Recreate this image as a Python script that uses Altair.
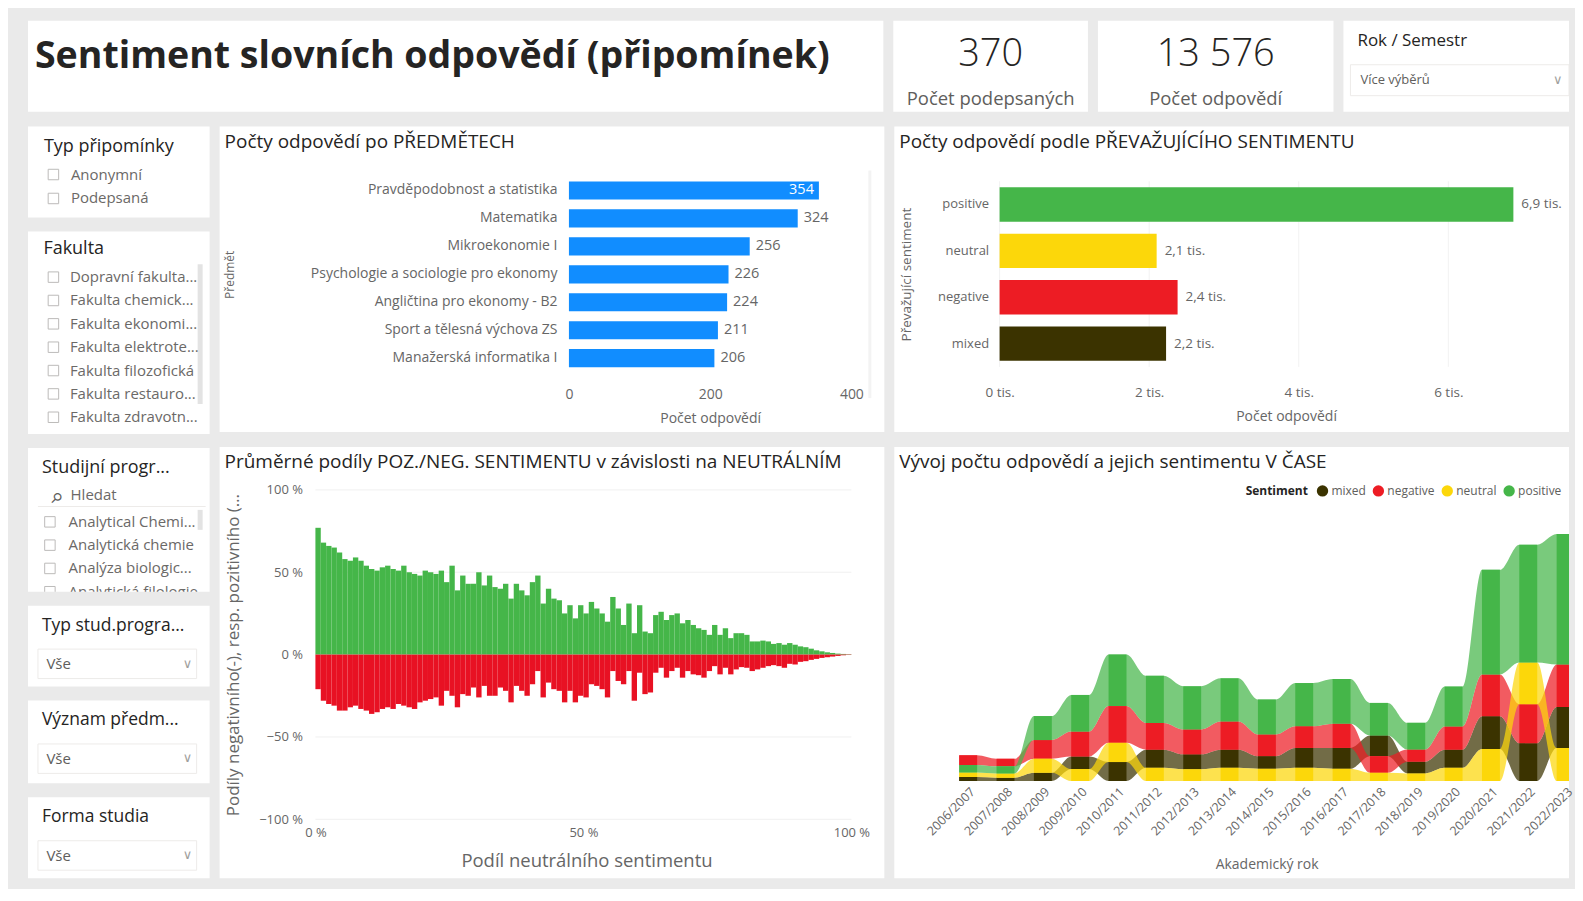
import json
import altair as alt
import pandas as pd

FONT = "Open Sans"
C_TEXT = "#252423"
C_GRAY = "#605e5c"
C_AXIS = "#666666"
C_BG = "#eaeaea"

# ---------------- data ----------------
TITLE = "Sentiment slovních odpovědí (připomínek)"
KPI_VALUES = [370, 13576]
KPI_LABELS = ["Počet podepsaných", "Počet odpovědí"]
ROK_TITLE = "Rok / Semestr"
ROK_VALUE = "Více výběrů"

TYP_TITLE = "Typ připomínky"
TYP_ITEMS = ["Anonymní", "Podepsaná"]
FAK_TITLE = "Fakulta"
FAK_ITEMS = ["Dopravní fakulta...", "Fakulta chemick...", "Fakulta ekonomi...",
             "Fakulta elektrote...", "Fakulta filozofická", "Fakulta restauro...",
             "Fakulta zdravotn..."]
SP_TITLE = "Studijní progr..."
SP_SEARCH = "Hledat"
SP_ITEMS = ["Analytical Chemi...", "Analytická chemie", "Analýza biologic...",
            "Analytická filologie"]
DD_TITLES = ["Typ stud.progra...", "Význam předm...", "Forma studia"]
DD_VALUE = "Vše"

SUBJ_TITLE = "Počty odpovědí po PŘEDMĚTECH"
SUBJECTS = ["Pravděpodobnost a statistika", "Matematika", "Mikroekonomie I",
            "Psychologie a sociologie pro ekonomy", "Angličtina pro ekonomy - B2",
            "Sport a tělesná výchova ZS", "Manažerská informatika I"]
SUBJECT_COUNTS = [354, 324, 256, 226, 224, 211, 206]

SENT_TITLE = "Počty odpovědí podle PŘEVAŽUJÍCÍHO SENTIMENTU"
SENTIMENTS = ["positive", "neutral", "negative", "mixed"]
SENTIMENT_COUNTS = [6870, 2100, 2380, 2226]
SENT_COLORS = ["#45b649", "#fcd70a", "#ed1c24", "#3b3300"]

HIST_TITLE = "Průměrné podíly POZ./NEG. SENTIMENTU v závislosti na NEUTRÁLNÍM"
POS_SHARE = [77, 68, 66, 65, 62, 58, 57, 59, 57, 54,
             52, 51, 53, 54, 52, 51, 54, 50, 49, 48,
             51, 50, 49, 51, 44, 54, 39, 48, 43, 43,
             50, 42, 48, 41, 40, 43, 34, 43, 39, 36,
             44, 48, 31, 40, 34, 33, 25, 30, 22, 30,
             25, 32, 28, 25, 20, 35, 28, 18, 31, 13,
             30, 14, 13, 24, 26, 21, 24, 25, 19, 21,
             18, 16, 15, 12, 18, 12, 16, 10, 13, 13,
             12, 8, 8, 8.5, 8, 6.5, 7, 6, 7, 6,
             5, 4.5, 3.6, 2.6, 2, 1.4, 1, 0.6, 0.4, 0.2]
NEG_SHARE = [21, 28, 30, 31, 34, 34, 32, 31, 33, 34,
             36, 35, 33, 32, 33, 30, 31, 32, 33, 29,
             28, 27, 26, 31, 22, 25, 32, 24, 25, 20,
             26, 19, 25, 25, 20, 22, 29, 19, 22, 25,
             18, 10, 26, 17, 21, 22, 29, 22, 29, 25,
             26, 18, 19, 21, 26, 10, 16, 18, 10, 28,
             11, 24, 23, 11, 8, 14, 10, 8, 14, 10,
             12, 12.5, 14, 10, 7, 12, 8, 12, 9, 7.6,
             8, 10, 9, 8, 7, 6.4, 7, 8, 5.6, 6,
             4.4, 4, 3.2, 2.6, 2, 1.6, 1.2, 0.8, 0.4, 0.2]

TIME_TITLE = "Vývoj počtu odpovědí a jejich sentimentu V ČASE"
YEARS = ["2006/2007", "2007/2008", "2008/2009", "2009/2010", "2010/2011",
         "2011/2012", "2012/2013", "2013/2014", "2014/2015", "2015/2016",
         "2016/2017", "2017/2018", "2018/2019", "2019/2020", "2020/2021",
         "2021/2022", "2022/2023"]
T_POSITIVE = [56, 52, 178, 272, 383, 350, 320, 320, 259, 320, 331, 242, 198, 296, 777, 875, 969]
T_NEGATIVE = [72, 56, 138, 185, 272, 198, 185, 209, 161, 161, 180, 124, 90, 172, 309, 289, 315]
T_NEUTRAL = [33, 32, 104, 89, 143, 98, 87, 98, 92, 98, 91, 61, 57, 98, 238, 309, 246]
T_MIXED = [30, 25, 62, 93, 141, 135, 111, 135, 93, 148, 155, 153, 87, 135, 243, 281, 303]
STREAM_DOMAIN = ["mixed", "negative", "neutral", "positive"]
STREAM_COLORS = ["#3b3300", "#ed1c24", "#fcd70a", "#45b649"]


# ---------------- helpers ----------------
def rect(x1, x2, y1, y2, fill="white", stroke=None):
    props = {"fill": fill}
    if stroke:
        props.update(stroke=stroke, strokeWidth=1)
    return alt.Chart(alt.Data(values=[{"k": 1}])).mark_rect(**props).encode(
        x=alt.value(x1), x2=alt.value(x2), y=alt.value(y1), y2=alt.value(y2))


def label(text, x, y, size=13, color=C_GRAY, weight="normal", align="left",
          font=FONT, angle=None):
    props = dict(align=align, baseline="middle", font=font, fontSize=size,
                 color=color, fontWeight=weight)
    if angle:
        props["angle"] = angle
    return alt.Chart(alt.Data(values=[{"t": text}])).mark_text(**props).encode(
        x=alt.value(x), y=alt.value(y), text="t:N")


def checklist(items, y_first, y_last, x_box, x_text, clip=False):
    df = pd.DataFrame({"item": items})
    y = alt.Y("item:N", sort=None, axis=None,
              scale=alt.Scale(type="point", range=[y_first, y_last], padding=0))
    boxes = alt.Chart(df).mark_point(shape="square", size=110, filled=False,
                                     stroke="#a19f9d", strokeWidth=1, clip=clip).encode(
        x=alt.value(x_box), y=y)
    texts = alt.Chart(df).mark_text(align="left", baseline="middle", font=FONT,
                                    fontSize=15, color="#6b6967", clip=clip).encode(
        x=alt.value(x_text), y=y, text="item:N")
    return [boxes, texts]


def ax(**kw):
    base = dict(domain=False, ticks=False, grid=False, labelFont=FONT,
                labelColor=C_AXIS, titleFont=FONT, titleColor=C_AXIS,
                titleFontWeight="normal", titleBaseline="middle")
    base.update(kw)
    return alt.Axis(**base)


# ---------------- top row ----------------
title_card = alt.layer(
    label(TITLE, 7, 36, 37.6, C_TEXT, "bold"),
).properties(width=857, height=91)


def kpi_card(value, text, w):
    df = pd.DataFrame({"v": [value]})
    num = alt.Chart(df).transform_calculate(
        s="replace(format(datum.v, ','), ',', ' ')"
    ).mark_text(align="center", baseline="middle", font=FONT, fontSize=38,
                fontWeight=300, color=C_TEXT).encode(
        x=alt.value(w / 2), y=alt.value(34), text="s:N")
    return alt.layer(num, label(text, w / 2, 78, 18.5, C_GRAY, align="center")
                     ).properties(width=w, height=91)


kpi1 = kpi_card(KPI_VALUES[0], KPI_LABELS[0], 195)
kpi2 = kpi_card(KPI_VALUES[1], KPI_LABELS[1], 236)

RW = 226
rok_card = alt.layer(
    label(ROK_TITLE, 14, 20, 17, C_TEXT),
    rect(7, RW, 44, 75, stroke="#edebe9"),
    label(ROK_VALUE, 17, 59, 13, C_GRAY),
    label("∨", RW - 16, 59, 13, "#a19f9d", font="DejaVu Sans"),
).properties(width=RW, height=91)

top_row = alt.hconcat(title_card, kpi1, kpi2, rok_card, spacing=10)

# ---------------- left column (slicers) ----------------
LW = 182
typ_card = alt.layer(
    label(TYP_TITLE, 16, 20.5, 18, C_TEXT),
    *checklist(TYP_ITEMS, 48, 72, 25.5, 43),
).properties(width=LW, height=91)

fak_card = alt.layer(
    label(FAK_TITLE, 15.5, 17.5, 18, C_TEXT),
    rect(170, 175, 33, 173, fill="#e3e3e3"),
    *checklist(FAK_ITEMS, 45.8, 186.2, 25.5, 42),
).properties(width=LW, height=203)

sp_card = alt.layer(
    label(SP_TITLE, 14, 19.7, 18, C_TEXT),
    label("⚲", 24.5, 47, 14, C_GRAY, font="DejaVu Sans", angle=45),
    label(SP_SEARCH, 42.7, 47, 15, "#6b6967"),
    rect(10, 178, 58, 59, fill="#edebe9"),
    rect(170, 175, 62, 82, fill="#e3e3e3"),
    *checklist(SP_ITEMS, 74, 144, 22, 40.7, clip=True),
).properties(width=LW, height=144)


def dd_card(title, h):
    return alt.layer(
        label(title, 14, 20, 17.5, C_TEXT),
        rect(10, 169, 43.5, 73, stroke="#edebe9"),
        label(DD_VALUE, 18.5, 58.5, 15, C_GRAY),
        label("∨", 155, 58, 13, "#a19f9d", font="DejaVu Sans"),
    ).properties(width=LW, height=h)


left_col = alt.vconcat(typ_card, fak_card, sp_card,
                       dd_card(DD_TITLES[0], 81), dd_card(DD_TITLES[1], 83),
                       dd_card(DD_TITLES[2], 81), spacing=14)

# ---------------- subjects bar chart (card 666 x 306) ----------------
CWM = 666
SX0, SX1, SY0, SY1 = 350, 633, 50, 246
df_sub = pd.DataFrame({"subject": SUBJECTS, "n": SUBJECT_COUNTS})


def sub_x(field):
    return alt.X(field, title="Počet odpovědí",
                 scale=alt.Scale(domain=[0, 400], range=[SX0, SX1]),
                 axis=ax(values=[0, 200, 400], labelFlush=False, labelPadding=15,
                         labelFontSize=14, offset=-(306 - SY1),
                         titleX=(SX0 + SX1) / 2, titleY=46, titleFontSize=14))


sub_y = alt.Y("subject:N", sort=None, title="Předmět",
              scale=alt.Scale(range=[SY0, SY1], paddingInner=0.35, paddingOuter=0.175),
              axis=ax(labelPadding=12, labelLimit=330, labelFontSize=14, offset=-SX0,
                      titleX=-340, titleY=(SY0 + SY1) / 2, titleAngle=270,
                      titleFontSize=12))

sub_bars = alt.Chart(df_sub).mark_bar(color="#118dff").encode(x=sub_x("n:Q"), y=sub_y)
sub_out = alt.Chart(df_sub).transform_filter("datum.n < 340").mark_text(
    align="left", baseline="middle", dx=6, font=FONT, fontSize=14.5, color=C_AXIS
).encode(x=sub_x("n:Q"), y=sub_y, text="n:Q")
sub_in = alt.Chart(df_sub).transform_filter("datum.n >= 340").mark_text(
    align="right", baseline="middle", dx=-5, font=FONT, fontSize=14.5, color="white"
).encode(x=sub_x("n:Q"), y=sub_y, text="n:Q")

sub_card = alt.layer(
    rect(650, 653, 44, 272, fill="#f3f3f3"),
    sub_bars, sub_out, sub_in,
    label(SUBJ_TITLE, 5, 15, 19, C_TEXT),
).properties(width=CWM, height=306)

# ---------------- histogram (card 666 x 432) ----------------
HX0, HX1, HY0, HY1 = 96, 633, 43, 373
df_h = pd.DataFrame({"bin": list(range(len(POS_SHARE))), "pos": POS_SHARE, "neg": NEG_SHARE})


def hx(field):
    return alt.X(field, title="Podíl neutrálního sentimentu",
                 scale=alt.Scale(domain=[0, 1], nice=False, range=[HX0, HX1]),
                 axis=ax(values=[0, 0.5, 1], labelExpr="format(datum.value * 100, 'd') + ' %'",
                         labelFlush=False, labelPadding=7, labelFontSize=13,
                         offset=-(432 - HY1),
                         titleX=HX0 + 271.6, titleY=41, titleFontSize=18.5))


def hy(field):
    return alt.Y(field, title="Podíly negativního(-), resp. pozitivního (+) sentimentu",
                 scale=alt.Scale(domain=[-1, 1], nice=False, range=[HY1, HY0]),
                 axis=ax(values=[-1, -0.5, 0, 0.5, 1],
                         labelExpr="format(datum.value * 100, 'd') + ' %'",
                         labelFlush=False, labelPadding=13, labelFontSize=13,
                         offset=-HX0,
                         titleX=-82, titleY=(HY0 + HY1) / 2, titleAngle=270,
                         titleFontSize=17, titleLimit=330))


hist_base = alt.Chart(df_h).transform_calculate(
    x0="datum.bin / 100", x1="(datum.bin + 1) / 100",
    p="datum.pos / 100", n="-datum.neg / 100", z="0")
hist_grid = alt.Chart(pd.DataFrame({"g": [-1, -0.5, 0, 0.5, 1]})).mark_rule(
    color="#f0f0f0").encode(y=hy("g:Q"), x=alt.value(HX0), x2=alt.value(HX1))
hist_pos = hist_base.mark_rect(color="#45b649").encode(
    x=hx("x0:Q"), x2="x1:Q", y=hy("p:Q"), y2="z:Q")
hist_neg = hist_base.mark_rect(color="#e81123").encode(
    x=hx("x0:Q"), x2="x1:Q", y=hy("n:Q"), y2="z:Q")

hist_card = alt.layer(
    hist_grid, hist_pos, hist_neg,
    label(HIST_TITLE, 5, 15, 19, C_TEXT),
).properties(width=CWM, height=432)

mid_col = alt.vconcat(sub_card, hist_card, spacing=15)

# ---------------- sentiment bar chart (card 676 x 306) ----------------
CWR = 676
PX0, PX1, PY0, PY1 = 105.5, 630, 54.75, 240.75
df_sent = pd.DataFrame({"sent_bar": SENTIMENTS, "n": SENTIMENT_COUNTS})


def sent_x(field):
    return alt.X(field, title="Počet odpovědí",
                 scale=alt.Scale(domain=[0, 7000], range=[PX0, PX1]),
                 axis=ax(values=[0, 2000, 4000, 6000],
                         labelExpr="format(datum.value / 1000, 'd') + ' tis.'",
                         labelFlush=False, labelPadding=19, labelFontSize=13.5,
                         offset=-(306 - PY1),
                         titleX=PX0 + 287, titleY=50, titleFontSize=14))


sent_y = alt.Y("sent_bar:N", sort=SENTIMENTS, title="Převažující sentiment",
               scale=alt.Scale(range=[PY0, PY1], paddingInner=0.26, paddingOuter=0.13),
               axis=ax(labelPadding=11, labelFontSize=13, offset=-PX0,
                       titleX=-93, titleY=(PY0 + PY1) / 2, titleAngle=270,
                       titleFontSize=13.5))

sent_grid = alt.Chart(pd.DataFrame({"g": [0, 2000, 4000, 6000]})).mark_rule(
    color="#f2f2f2").encode(x=sent_x("g:Q"), y=alt.value(PY0), y2=alt.value(PY1))
sent_bars = alt.Chart(df_sent).mark_bar().encode(
    x=sent_x("n:Q"), y=sent_y,
    color=alt.Color("sent_bar:N", scale=alt.Scale(domain=SENTIMENTS, range=SENT_COLORS),
                    legend=None))
sent_lab = alt.Chart(df_sent).transform_calculate(
    lab="replace(format(datum.n / 1000, '.1f'), '.', ',') + ' tis.'"
).mark_text(align="left", baseline="middle", dx=8, font=FONT, fontSize=13.5,
            color=C_AXIS).encode(x=sent_x("n:Q"), y=sent_y, text="lab:N")

sent_card = alt.layer(
    sent_grid, sent_bars, sent_lab,
    label(SENT_TITLE, 5, 15, 19, C_TEXT),
).properties(width=CWR, height=306)

# ---------------- ribbon chart over time (card 676 x 432) ----------------
TX0, TX1, TY0, TY1 = 55.3, 691.3, 72.7, 334.7
rows = []
for i, yr in enumerate(YEARS):
    for s, vals in zip(STREAM_DOMAIN, [T_MIXED, T_NEGATIVE, T_NEUTRAL, T_POSITIVE]):
        rows.append({"idx": i, "year": yr, "sentiment": s, "value": vals[i]})
df_t = pd.DataFrame(rows)
df_rib = df_t.merge(pd.DataFrame({"side": [-1, 1]}), how="cross")

year_expr = json.dumps(YEARS) + "[datum.value]"


def sx(field):
    return alt.X(field, title="Akademický rok",
                 scale=alt.Scale(domain=[-0.5, 16.5], nice=False, zero=False,
                                 range=[TX0, TX1]),
                 axis=ax(values=list(range(len(YEARS))), labelExpr=year_expr,
                         labelAngle=315, labelOverlap=False, labelFlush=False,
                         labelPadding=4, labelFontSize=12.5, offset=-(432 - TY1),
                         titleX=373, titleY=84, titleFontSize=14))


def sy(field):
    return alt.Y(field, scale=alt.Scale(domain=[0, 1940], nice=False, range=[TY1, TY0]),
                 axis=None)


stream_color = alt.Color(
    "sentiment:N",
    scale=alt.Scale(domain=STREAM_DOMAIN, range=STREAM_COLORS),
    legend=alt.Legend(title="Sentiment", orient="none", legendX=352, legendY=38,
                      direction="horizontal", titleOrient="left", titleFont=FONT,
                      titleFontSize=12, titleFontWeight="bold", titleColor=C_TEXT,
                      labelFont=FONT, labelFontSize=12, labelColor=C_GRAY,
                      symbolType="circle", symbolSize=130, symbolOpacity=1,
                      symbolStrokeWidth=0, columnPadding=6, labelOffset=3,
                      titlePadding=8))

ribbons = alt.Chart(df_rib).transform_calculate(
    xpos="datum.idx + datum.side * 0.24"
).transform_stack(
    stack="value", groupby=["idx", "side"], as_=["y0", "y1"],
    sort=[alt.SortField(field="value", order="ascending")]
).mark_area(interpolate="monotone", opacity=0.72, clip=True).encode(
    x=sx("xpos:Q"), y=sy("y0:Q"), y2="y1:Q", color=stream_color)

year_bars = alt.Chart(df_t).transform_stack(
    stack="value", groupby=["idx"], as_=["y0", "y1"],
    sort=[alt.SortField(field="value", order="ascending")]
).transform_calculate(
    xl="datum.idx - 0.24", xr="datum.idx + 0.24"
).mark_rect(clip=True).encode(
    x=sx("xl:Q"), x2="xr:Q", y=sy("y0:Q"), y2="y1:Q", color=stream_color)

stream_card = alt.layer(
    ribbons, year_bars,
    label(TIME_TITLE, 5, 15, 19, C_TEXT),
).properties(width=CWR, height=432)

right_col = alt.vconcat(sent_card, stream_card, spacing=15).resolve_scale(
    color="independent").resolve_legend(color="independent")

bottom = alt.hconcat(left_col, mid_col, right_col, spacing=10).resolve_scale(
    color="independent").resolve_legend(color="independent")

chart = alt.vconcat(top_row, bottom, spacing=15).resolve_scale(
    color="independent").resolve_legend(color="independent").properties(
    background=C_BG,
    padding={"left": 20, "top": 12, "right": 0, "bottom": 10},
).configure(font=FONT).configure_view(fill="white", strokeWidth=0)

chart.save("out.html", embed_options={"renderer": "svg", "actions": False})
